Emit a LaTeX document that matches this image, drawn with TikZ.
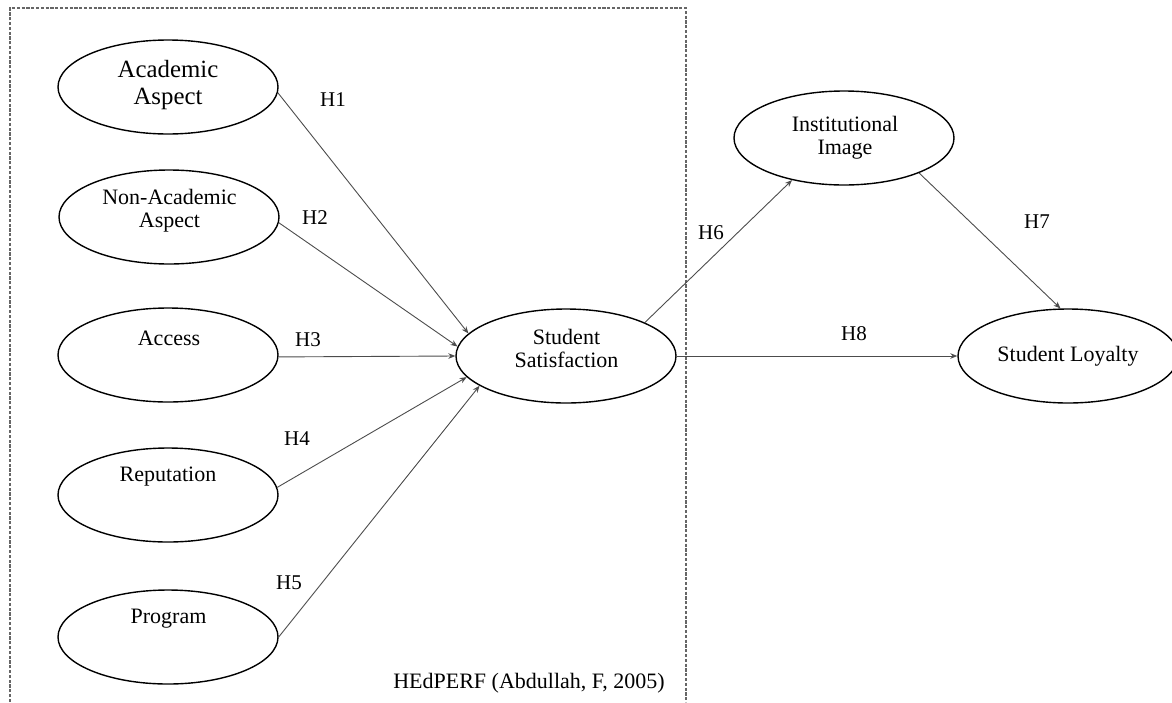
\documentclass[tikz,border=0pt]{standalone}
\usepackage{fontspec}
\setmainfont{Liberation Serif}
\usetikzlibrary{shapes.geometric,arrows.meta}
\tikzset{
  oval/.style={ellipse, draw=black, line width=0.7pt, minimum width=110pt, minimum height=47pt, inner sep=0pt},
  txt/.style={align=center, font=\fontsize{11}{11.5}\selectfont, inner sep=0pt},
  bigtxt/.style={align=center, font=\fontsize{12.4}{13.5}\selectfont, inner sep=0pt},
  hyp/.style={font=\fontsize{10.5}{12}\selectfont, inner sep=0pt},
  conn/.style={draw=black!70, line width=0.45pt, -{Stealth[length=3.5pt,width=2.8pt]}},
  frame/.style={draw=black!60, line width=0.6pt, dash pattern=on 1.6pt off 0.8pt}
}
\begin{document}
\begin{tikzpicture}[x=0.5pt,y=-0.5pt]
\useasboundingbox (0,0) rectangle (1172,702);
% dashed frame
\coordinate (f1) at (10,702);
\coordinate (f2) at (10,8);
\coordinate (f3) at (686,8);
\coordinate (f4) at (686,702);
\draw[frame] (f1) -- (f2) -- (f3) -- (f4);

% ellipses
\node[oval] (aa) at (168,87) {};
\node[oval] (na) at (169,217) {};
\node[oval] (ac) at (168,355) {};
\node[oval] (re) at (168,495) {};
\node[oval] (pr) at (168,637) {};
\node[oval] (ss) at (566,356) {};
\node[oval] (ii) at (844,138) {};
\node[oval] (sl) at (1068,356) {};

% texts
\node[bigtxt] (aaT) at (168,85) {Academic\\Aspect};
\node[txt] (naT) at (169.5,210.5) {Non-Academic\\Aspect};
\node[txt] (acT) at (169,338) {Access};
\node[txt] (reT) at (168,477) {Reputation};
\node[txt] (prT) at (168.5,619) {Program};
\node[txt] (ssT) at (566.5,348.5) {Student\\Satisfaction};
\node[txt] (iiT) at (845,137.5) {Institutional\\Image};
\node[txt] (slT) at (1068,356) {Student Loyalty};
\node[txt] (src) at (529,683) {HEdPERF (Abdullah, F, 2005)};

% connectors
\draw[conn] (aa.-3) -- (ss.167);
\draw[conn] (na.-3) -- (ss.175);
\draw[conn] (ac.-1.5) -- (ss.180);
\draw[conn] (re.4) -- (ss.192);
\draw[conn] (pr.0) -- (ss.199);
\draw[conn] (ss.23) -- (ii.219);
\draw[conn] (ii.-25) -- (sl.99);
\draw[conn] (ss.0) -- (sl.180);

% hypothesis labels
\node[hyp] (h1) at (333,100) {H1};
\node[hyp] (h2) at (315,218) {H2};
\node[hyp] (h3) at (308,340) {H3};
\node[hyp] (h4) at (297,439) {H4};
\node[hyp] (h5) at (289,583) {H5};
\node[hyp] (h6) at (711,233) {H6};
\node[hyp] (h7) at (1037,222) {H7};
\node[hyp] (h8) at (854,334) {H8};
\end{tikzpicture}
\end{document}
